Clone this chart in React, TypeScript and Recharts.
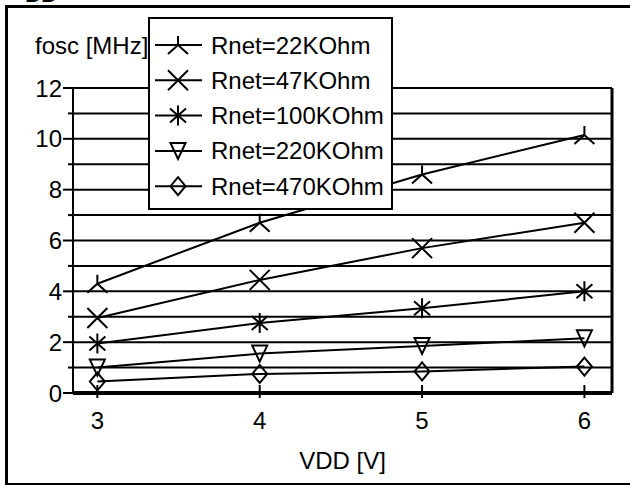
import React from 'react';
import {
  LineChart,
  Line,
  XAxis,
  YAxis,
  CartesianGrid,
  Legend,
  ReferenceLine,
} from 'recharts';

// Supply voltage (x) and oscillator frequency per Rnet (y, MHz)
const vdd = [3, 4, 5, 6];
const rnet22 = [4.3, 6.7, 8.6, 10.15];
const rnet47 = [2.95, 4.45, 5.7, 6.7];
const rnet100 = [1.95, 2.75, 3.33, 4.0];
const rnet220 = [1.0, 1.55, 1.85, 2.15];
const rnet470 = [0.45, 0.75, 0.85, 1.04];

const seriesNames = ['Rnet=22KOhm', 'Rnet=47KOhm', 'Rnet=100KOhm', 'Rnet=220KOhm', 'Rnet=470KOhm'];
const xTicks = [3, 4, 5, 6];
const yTicks = [0, 1, 2, 3, 4, 5, 6, 7, 8, 9, 10, 11, 12];
const xDomain = [2.85, 6.17];

const FONT = '"Liberation Sans", Arial, Helvetica, sans-serif';
const FS = 24;

const series = [
  { key: 'r22', name: seriesNames[0], values: rnet22, kind: 'arrow' },
  { key: 'r47', name: seriesNames[1], values: rnet47, kind: 'x' },
  { key: 'r100', name: seriesNames[2], values: rnet100, kind: 'star' },
  { key: 'r220', name: seriesNames[3], values: rnet220, kind: 'tri' },
  { key: 'r470', name: seriesNames[4], values: rnet470, kind: 'diamond' },
];

const data = vdd.map((v, i) => {
  const row: any = { vdd: v };
  series.forEach((s) => {
    row[s.key] = s.values[i];
  });
  return row;
});

/**
 * Marker glyphs, drawn as plain strokes
 */
function Marker({ kind, cx, cy }: { kind: string; cx: number; cy: number }) {
  const p = { stroke: '#000', strokeWidth: 2, fill: 'none' };
  let d = '';
  switch (kind) {
    case 'arrow':
      d = `M${cx},${cy - 9}L${cx},${cy}M${cx - 10},${cy + 9}L${cx},${cy}L${cx + 10},${cy + 9}`;
      break;
    case 'x':
      d = `M${cx - 10},${cy - 10}L${cx + 10},${cy + 10}M${cx - 10},${cy + 10}L${cx + 10},${cy - 10}`;
      break;
    case 'star':
      d = `M${cx - 8},${cy - 7}L${cx + 8},${cy + 7}M${cx - 8},${cy + 7}L${cx + 8},${cy - 7}M${cx},${cy - 10}L${cx},${cy + 10}`;
      break;
    case 'tri':
      d = `M${cx - 7.5},${cy - 8}L${cx + 7.5},${cy - 8}L${cx},${cy + 8}Z`;
      break;
    default:
      d = `M${cx},${cy - 9}L${cx + 7.5},${cy}L${cx},${cy + 9}L${cx - 7.5},${cy}Z`;
  }
  return <path d={d} {...p} />;
}

// legend keeps the series order (Recharts would sort it by name)
function renderLegend() {
  return (
    <svg width={245} height={193} style={{ display: 'block', background: '#fff' }}>
      <rect x={1} y={1} width={243} height={191} fill="#fff" stroke="#000" strokeWidth={2} />
      {series.map((s, i) => {
        const cy = 28 + i * 35.3;
        return (
          <g key={s.key}>
            <line x1={7} x2={54} y1={cy} y2={cy} stroke="#000" strokeWidth={2} />
            <Marker kind={s.kind} cx={30} cy={cy} />
            <text x={63} y={cy + 8.5} fontSize={FS} fontFamily={FONT} fill="#000">
              {s.name}
            </text>
          </g>
        );
      })}
    </svg>
  );
}

function YTick({ x, y, payload }: any) {
  const major = payload.value % 2 === 0;
  return (
    <g>
      <line x1={x - (major ? 10 : 5)} x2={x} y1={y} y2={y} stroke="#000" strokeWidth={2} />
      {major && (
        <text x={x - 11} y={y + 8.5} textAnchor="end" fontSize={FS} fontFamily={FONT} fill="#000">
          {payload.value}
        </text>
      )}
    </g>
  );
}

function XTick({ x, y, payload }: any) {
  return (
    <g>
      <line x1={x} x2={x} y1={y - 8} y2={y + 5} stroke="#000" strokeWidth={2} />
      <text x={x} y={y + 36} textAnchor="middle" fontSize={FS} fontFamily={FONT} fill="#000">
        {payload.value}
      </text>
    </g>
  );
}

export default function App() {
  return (
    <div
      style={{
        position: 'absolute',
        left: 0,
        top: 0,
        width: 630,
        height: 485,
        overflow: 'hidden',
        background: '#fff',
      }}
    >
      {/* clipped heading remnant above the frame */}
      <div
        style={{
          position: 'absolute',
          left: 26,
          top: -16,
          fontFamily: FONT,
          fontSize: 22,
          fontWeight: 'bold',
          fontStyle: 'italic',
          lineHeight: '22px',
        }}
      >
        DD
      </div>
      {/* outer frame, right side runs off the page */}
      <div
        style={{
          position: 'absolute',
          left: 5,
          top: 5,
          width: 622,
          height: 475,
          borderTop: '3px solid #000',
          borderLeft: '3px solid #000',
          borderBottom: '2px solid #000',
        }}
      />
      <div style={{ position: 'absolute', left: 0, top: 0 }}>
        <LineChart
          width={630}
          height={485}
          data={data}
          margin={{ top: 88, right: 18, bottom: 0, left: 0 }}
        >
          <CartesianGrid horizontal vertical={false} stroke="#000" strokeWidth={2} strokeOpacity={1} />
          <XAxis
            dataKey="vdd"
            type="number"
            domain={xDomain}
            ticks={xTicks}
            allowDataOverflow
            height={92}
            tickSize={0}
            tickMargin={0}
            tickLine={false}
            axisLine={{ stroke: '#000', strokeWidth: 4 }}
            tick={<XTick />}
            label={{
              value: 'VDD [V]',
              position: 'insideBottom',
              offset: 16,
              style: { fontSize: FS, fontFamily: FONT, fill: '#000' },
            }}
          />
          <YAxis
            type="number"
            domain={[0, 12]}
            ticks={yTicks}
            interval={0}
            width={73}
            tickSize={0}
            tickMargin={0}
            tickLine={false}
            axisLine={{ stroke: '#000', strokeWidth: 2 }}
            tick={<YTick />}
            label={({ viewBox }: any) => (
              <text
                x={viewBox.x + 35}
                y={viewBox.y - 34}
                fontSize={FS}
                fontFamily={FONT}
                fill="#000"
              >
                fosc [MHz]
              </text>
            )}
          />
          <ReferenceLine x={xDomain[1]} stroke="#000" strokeWidth={3} />
          {series.map((s) => (
            <Line
              key={s.key}
              dataKey={s.key}
              name={s.name}
              type="linear"
              stroke="#000"
              strokeWidth={2}
              isAnimationActive={false}
              activeDot={false}
              dot={(props: any) => (
                <Marker key={`${s.key}-${props.index}`} kind={s.kind} cx={props.cx} cy={props.cy} />
              )}
            />
          ))}
          <Legend
            layout="vertical"
            align="center"
            verticalAlign="middle"
            content={renderLegend}
            wrapperStyle={{ left: 148, top: 17, width: 245, height: 193 }}
          />
        </LineChart>
      </div>
    </div>
  );
}
